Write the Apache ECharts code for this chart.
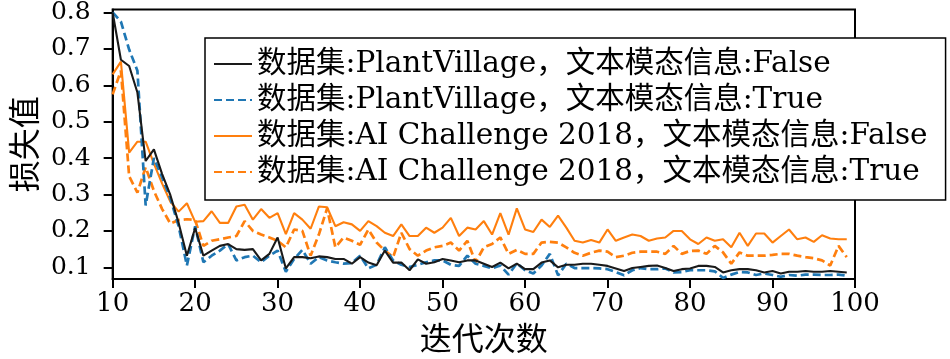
<!DOCTYPE html>
<html>
<head>
<meta charset="utf-8">
<script src="https://cdn.jsdelivr.net/npm/echarts@6/dist/echarts.min.js"></script>
<style>html,body{margin:0;padding:0;background:#fff;}#c{width:950px;height:359px;}</style>
</head>
<body>
<div id="c"></div>
<script>
const epochs = [10,11,12,13,14,15,16,17,18,19,20,21,22,23,24,25,26,27,28,29,30,31,32,33,34,35,36,37,38,39,40,41,42,43,44,45,46,47,48,49,50,51,52,53,54,55,56,57,58,59,60,61,62,63,64,65,66,67,68,69,70,71,72,73,74,75,76,77,78,79,80,81,82,83,84,85,86,87,88,89,90,91,92,93,94,95,96,97,98,99];
const yTicks = [0.1,0.2,0.3,0.4,0.5,0.6,0.7,0.8];
const xTicks = [10,20,30,40,50,60,70,80,90,100];
const seriesNames = [
  '数据集:PlantVillage，文本模态信息:False',
  '数据集:PlantVillage，文本模态信息:True',
  '数据集:AI Challenge 2018，文本模态信息:False',
  '数据集:AI Challenge 2018，文本模态信息:True'
];
const pvFalse = [0.80,0.67,0.653,0.58,0.392,0.424,0.356,0.298,0.222,0.132,0.208,0.132,0.146,0.159,0.164,0.150,0.148,0.150,0.119,0.137,0.182,0.097,0.128,0.128,0.125,0.130,0.128,0.123,0.123,0.110,0.128,0.113,0.106,0.146,0.113,0.113,0.092,0.122,0.110,0.114,0.123,0.119,0.114,0.119,0.119,0.110,0.101,0.113,0.097,0.110,0.095,0.095,0.113,0.119,0.100,0.107,0.107,0.110,0.110,0.107,0.104,0.097,0.090,0.098,0.101,0.104,0.105,0.098,0.090,0.095,0.097,0.104,0.104,0.101,0.086,0.092,0.095,0.095,0.092,0.086,0.090,0.083,0.088,0.088,0.090,0.088,0.088,0.090,0.088,0.086];
const pvTrue = [0.80,0.775,0.698,0.64,0.27,0.40,0.347,0.289,0.213,0.105,0.213,0.114,0.132,0.146,0.164,0.119,0.128,0.132,0.114,0.132,0.146,0.088,0.123,0.148,0.110,0.128,0.119,0.114,0.110,0.112,0.132,0.097,0.107,0.155,0.119,0.107,0.101,0.107,0.114,0.119,0.119,0.107,0.104,0.132,0.110,0.104,0.097,0.105,0.080,0.111,0.092,0.083,0.105,0.137,0.078,0.110,0.098,0.098,0.098,0.097,0.095,0.087,0.078,0.092,0.098,0.095,0.095,0.097,0.086,0.087,0.092,0.092,0.092,0.089,0.071,0.080,0.087,0.086,0.079,0.083,0.079,0.074,0.079,0.077,0.080,0.080,0.079,0.079,0.080,0.077];
const aiFalse = [0.63,0.665,0.415,0.445,0.445,0.385,0.33,0.28,0.253,0.276,0.225,0.227,0.254,0.222,0.222,0.267,0.272,0.231,0.260,0.236,0.249,0.191,0.249,0.231,0.206,0.267,0.265,0.213,0.224,0.218,0.200,0.227,0.213,0.195,0.186,0.218,0.186,0.186,0.209,0.195,0.209,0.236,0.186,0.209,0.204,0.227,0.190,0.249,0.190,0.262,0.204,0.197,0.231,0.211,0.242,0.209,0.173,0.168,0.175,0.168,0.204,0.173,0.182,0.190,0.186,0.173,0.179,0.182,0.200,0.200,0.177,0.164,0.182,0.173,0.177,0.155,0.195,0.159,0.193,0.193,0.168,0.186,0.204,0.177,0.182,0.170,0.188,0.179,0.177,0.177];
const aiTrue = [0.575,0.64,0.35,0.305,0.375,0.31,0.26,0.22,0.23,0.232,0.23,0.159,0.173,0.177,0.182,0.186,0.227,0.200,0.190,0.182,0.173,0.155,0.204,0.200,0.132,0.190,0.262,0.155,0.182,0.173,0.162,0.204,0.168,0.146,0.128,0.195,0.150,0.132,0.146,0.155,0.159,0.168,0.146,0.173,0.114,0.155,0.164,0.182,0.137,0.148,0.137,0.137,0.168,0.170,0.168,0.155,0.140,0.132,0.140,0.146,0.143,0.128,0.132,0.140,0.143,0.143,0.143,0.137,0.159,0.137,0.145,0.146,0.137,0.159,0.141,0.110,0.141,0.132,0.132,0.132,0.134,0.137,0.137,0.132,0.128,0.125,0.119,0.105,0.159,0.128];

const FONT = "'DejaVu Serif', 'Noto Sans CJK SC', serif";
const CJK = "'Noto Sans CJK SC', sans-serif";
function pairs(vals){ return epochs.map((e,i)=>[e, vals[i]]); }
const colors = ['#1a1a1a','#1f77b4','#ff7f0e','#ff7f0e'];
const types = ['solid',[8,4],'solid',[8,4]];
const widths = [2.1,2.7,2.1,2.7];
const allVals = [pvFalse,pvTrue,aiFalse,aiTrue];

const chart = echarts.init(document.getElementById('c'), null, {renderer:'canvas'});
chart.setOption({
  animation:false,
  backgroundColor:'#fff',
  grid:{left:106,right:95,top:9,bottom:75,show:true,borderColor:'#000',borderWidth:2,backgroundColor:'transparent'},
  xAxis:{type:'value',min:10,max:100,interval:10,
    name:'迭代次数',nameLocation:'middle',nameGap:34,
    nameTextStyle:{fontFamily:CJK,fontSize:32,color:'#000',verticalAlign:'top'},
    axisLine:{show:true,onZero:false,lineStyle:{color:'#000',width:2}},
    axisTick:{show:true,length:9,lineStyle:{color:'#000',width:2},customValues:xTicks},
    axisLabel:{show:true,margin:12,fontFamily:FONT,fontSize:26,color:'#000',customValues:xTicks},
    splitLine:{show:false}},
  yAxis:{type:'value',min:0.0677,max:0.808,
    name:'损失值',nameLocation:'middle',nameGap:72,
    nameTextStyle:{fontFamily:CJK,fontSize:32,color:'#000'},
    axisLine:{show:true,onZero:false,lineStyle:{color:'#000',width:2}},
    axisTick:{show:true,length:9,lineStyle:{color:'#000',width:2},customValues:yTicks},
    axisLabel:{show:true,margin:22,fontFamily:FONT,fontSize:25,color:'#000',customValues:yTicks,formatter:v=>v.toFixed(1)},
    splitLine:{show:false}},
  legend:{orient:'vertical',left:205,top:38,
    backgroundColor:'#fff',borderColor:'#000',borderWidth:1.5,borderRadius:0,
    padding:[8,18,10,8],itemWidth:38,itemHeight:14,itemGap:0,
    itemStyle:{opacity:0},
    textStyle:{fontFamily:FONT,fontSize:29.5,color:'#000',lineHeight:36},
    data:seriesNames},
  series: seriesNames.map((n,k)=>({
    name:n,type:'line',data:pairs(allVals[k]),symbol:'none',showSymbol:false,
    color:colors[k],
    lineStyle:{color:colors[k],width:widths[k],type:types[k]},
    z: 2 + (3-k)
  }))
});
</script>
</body>
</html>
